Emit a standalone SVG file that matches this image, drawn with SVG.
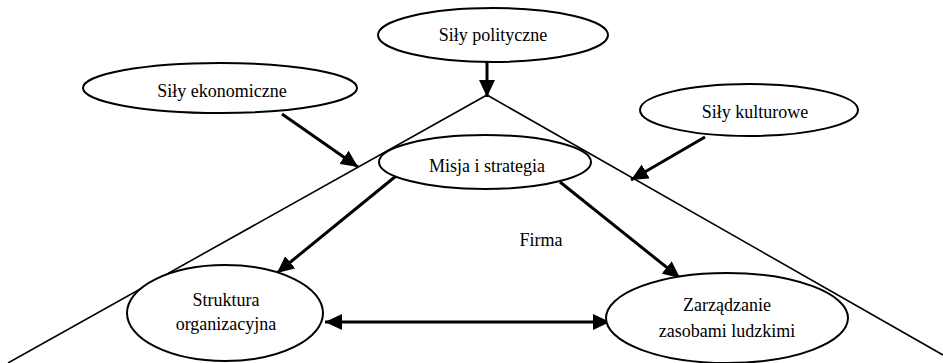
<svg xmlns="http://www.w3.org/2000/svg" width="943" height="363" viewBox="0 0 943 363">
  <style>
    .node ellipse { fill: #ffffff; stroke: #000000; stroke-width: 2; }
    text { font-family: 'Liberation Serif', 'Times New Roman', serif; font-size: 18px; fill: #000000; text-anchor: middle; }
    .edge { stroke: #000000; stroke-width: 3; fill: none; }
    .frame { stroke: #000000; stroke-width: 1.6; fill: none; }
  </style>
  <defs>
    <marker id="arrow" markerUnits="userSpaceOnUse" markerWidth="18" markerHeight="16" refX="17" refY="8" orient="auto-start-reverse" viewBox="0 0 18 16">
      <path d="M0,0 L17,8 L0,16 Z" fill="#000000"/>
    </marker>
  </defs>
  <rect width="943" height="363" fill="#ffffff"/>

  <!-- Firm boundary: the triangle sides -->
  <g id="firma">
    <polyline class="frame" points="8,363 487,95 943,355"/>
    <text x="541" y="246">Firma</text>
  </g>

  <!-- Connectors -->
  <g id="connectors">
    <line class="edge" x1="487" y1="62" x2="487" y2="97" marker-end="url(#arrow)"/>
    <line class="edge" x1="282" y1="114" x2="358" y2="167" marker-end="url(#arrow)"/>
    <line class="edge" x1="705" y1="137" x2="631" y2="180" marker-end="url(#arrow)"/>
    <line class="edge" x1="396" y1="176" x2="277" y2="273" marker-end="url(#arrow)"/>
    <line class="edge" x1="560" y1="182" x2="680" y2="278" marker-end="url(#arrow)"/>
    <line class="edge" x1="325" y1="322" x2="610" y2="322" marker-start="url(#arrow)" marker-end="url(#arrow)"/>
  </g>

  <g id="sily-polityczne" class="node">
    <ellipse cx="493" cy="35" rx="115" ry="27"/>
    <text x="493" y="41">Siły polityczne</text>
  </g>

  <g id="sily-ekonomiczne" class="node">
    <ellipse cx="220" cy="88" rx="137" ry="25"/>
    <text x="222" y="97">Siły ekonomiczne</text>
  </g>

  <g id="sily-kulturowe" class="node">
    <ellipse cx="749" cy="110" rx="109" ry="26"/>
    <text x="755" y="118">Siły kulturowe</text>
  </g>

  <g id="misja-i-strategia" class="node">
    <ellipse cx="485" cy="162" rx="106" ry="27"/>
    <text x="487" y="172">Misja i strategia</text>
  </g>

  <g id="struktura-organizacyjna" class="node">
    <ellipse cx="225" cy="313" rx="98" ry="48"/>
    <text x="226" y="306">Struktura</text>
    <text x="226" y="330">organizacyjna</text>
  </g>

  <g id="zarzadzanie-zasobami-ludzkimi" class="node">
    <ellipse cx="727" cy="318" rx="121" ry="45"/>
    <text x="727" y="311">Zarządzanie</text>
    <text x="727" y="337">zasobami ludzkimi</text>
  </g>
</svg>
